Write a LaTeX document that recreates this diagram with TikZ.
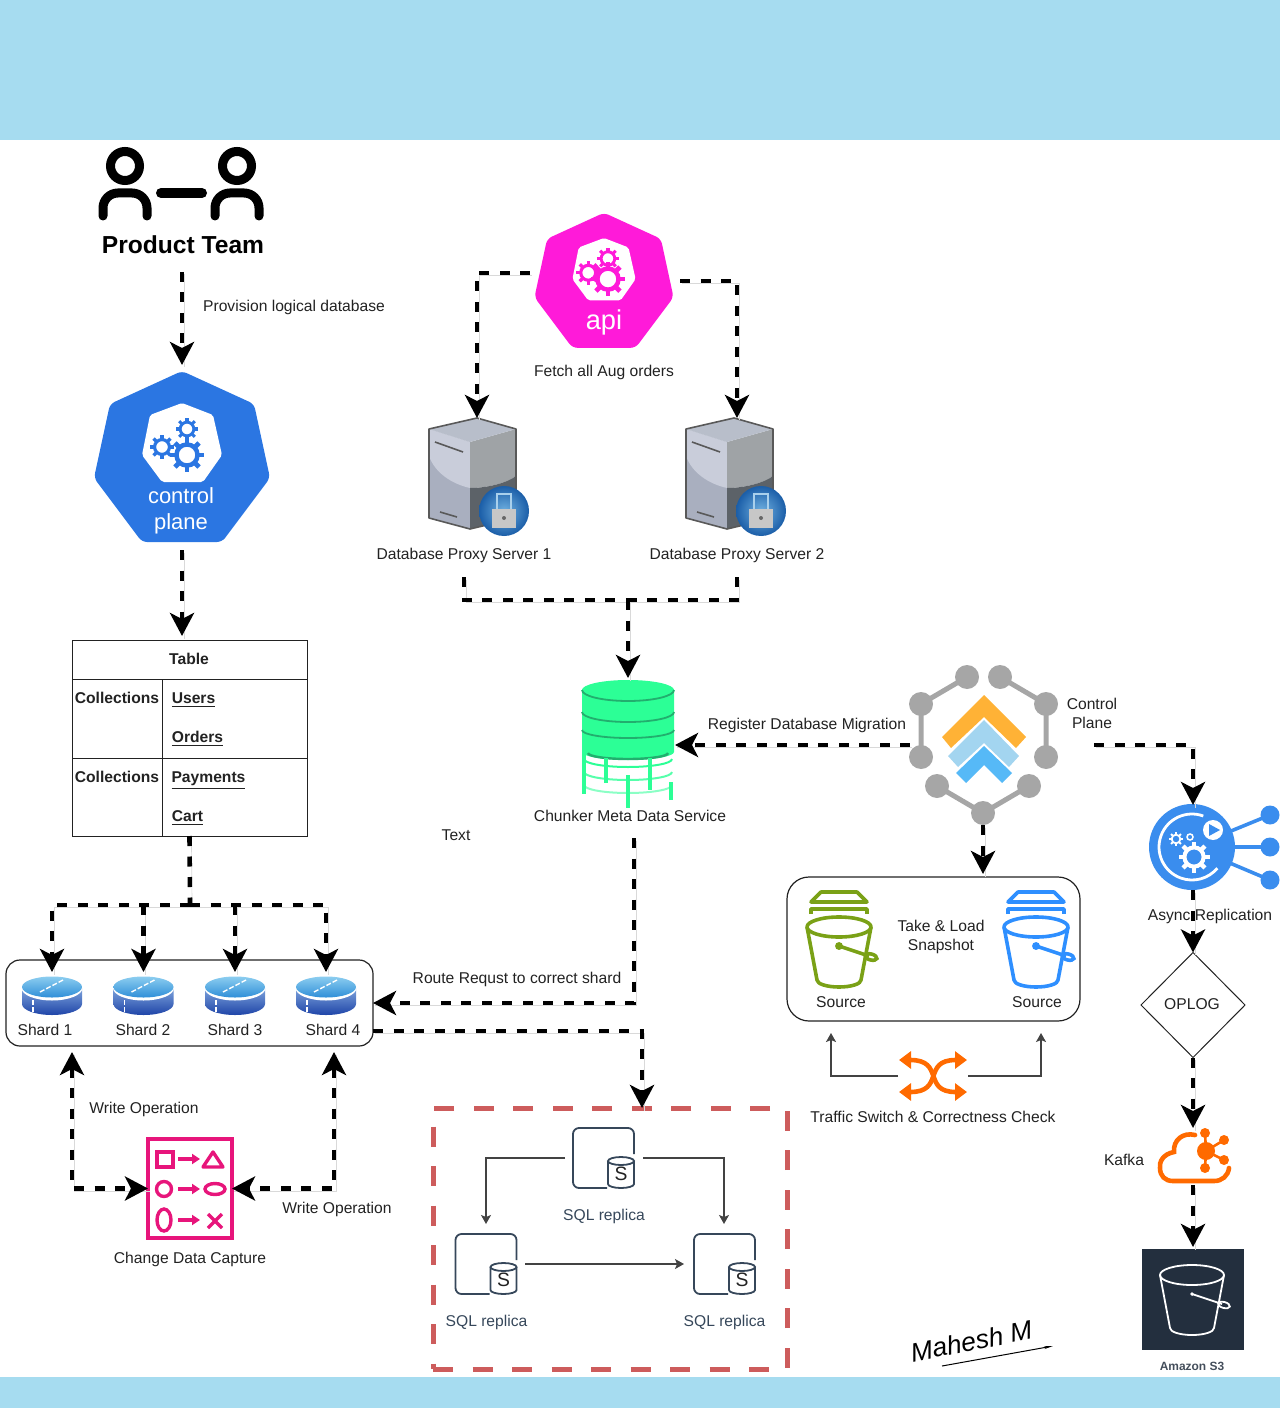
\documentclass[tikz,border=0pt]{standalone}
\usepackage{fontspec}
\setmainfont{Liberation Sans}
\usetikzlibrary{arrows.meta, shapes.geometric}
\newdimen\pxu \pxu=0.02cm
\definecolor{bandblue}{HTML}{A6DCF0}
\definecolor{k8sblue}{HTML}{2B76E2}
\definecolor{apipink}{HTML}{FF1AD9}
\definecolor{chunkgreen}{HTML}{2CFF96}
\definecolor{chunkdark}{HTML}{22AE6E}
\definecolor{cpgray}{HTML}{A6A6A6}
\definecolor{asyncblue}{HTML}{3A8DEE}
\definecolor{swaporange}{HTML}{FF6A00}
\definecolor{cdcpink}{HTML}{E7157B}
\definecolor{redbox}{HTML}{CD5C5C}
\definecolor{s3navy}{HTML}{232F3E}
\definecolor{sqlslate}{HTML}{36475A}
\definecolor{awsgreen}{HTML}{7AA116}
\definecolor{awsblue}{HTML}{2E8FFF}
\definecolor{inkgray}{HTML}{222222}
\definecolor{globein}{HTML}{6FB0E0}
\definecolor{globeout}{HTML}{1B5EA8}
\definecolor{diskbodyA}{HTML}{7DA3DC}
\definecolor{diskbodyB}{HTML}{1F45A8}
\definecolor{disktopA}{HTML}{8CCDF0}
\definecolor{disktopB}{HTML}{2F8FD8}
\tikzset{
	lbl/.style={font=\fontsize{8.9}{10}\selectfont, text=inkgray, inner sep=0pt, text height=.72em, text depth=.1em},
	boldlbl/.style={lbl, font=\fontsize{8.9}{10}\selectfont\bfseries},
	iconbox/.style 2 args={minimum width=#1\pxu, minimum height=#2\pxu, inner sep=0pt, outer sep=0pt},
	flowline/.style={draw=black, line width=4.6\pxu, dash pattern=on 10\pxu off 10.5\pxu,
		preaction={draw=black!15, arrows=-, transform canvas={shift={(2\pxu,-2.5\pxu)}}}},
	flow/.style={flowline, -{Stealth[length=.46cm, width=.48cm, inset=.12cm]}},
	biflow/.style={flowline, {Stealth[length=.46cm, width=.48cm, inset=.12cm]}-{Stealth[length=.46cm, width=.48cm, inset=.12cm]}},
	thinflow/.style={draw=inkgray!85, line width=1.3\pxu, -{Stealth[length=.18cm, width=.2cm, inset=.04cm]}},
	pics/gear/.style 2 args={code={
		\draw[#2, line width=#1*.26\pxu] (0,0) circle (#1*.62);
		\foreach \a in {0,45,...,315} \draw[#2, line width=#1*.28\pxu] (\a:#1*.7) -- (\a:#1);
	}},
	pics/hepta/.style={code={
		\fill[#1, rounded corners=5\pxu] (0,-94) -- (72,-61) -- (88,13) -- (40,77) -- (-40,77) -- (-88,13) -- (-72,-61) -- cycle;
		\fill[white, rounded corners=2\pxu] (0,-62) -- (31,-50) -- (40,-10) -- (21,17) -- (-20,17) -- (-40,-10) -- (-32,-50) -- cycle;
		\pic at (5,-10) {gear={17}{#1}};
		\pic at (-20,-18) {gear={12}{#1}};
		\pic at (5,-36) {gear={11}{#1}};
	}},
	pics/serverbody/.style={code={
		\fill[color={rgb,255:red,169;green,175;blue,191}] (-48,11) -- (-7,24) -- (-7,111) -- (-48,100) -- cycle;
		\fill[color={rgb,255:red,201;green,205;blue,218}] (-48,11) -- (-7,24) -- (-7,70) .. controls (-25,66) and (-42,55) .. (-48,38) -- cycle;
		\fill[color={rgb,255:red,159;green,163;blue,166}] (39,11) -- (-7,24) -- (-7,70) .. controls (10,70) and (30,65) .. (39,58) -- cycle;
		\fill[color={rgb,255:red,92;green,98;blue,104}] (-7,70) .. controls (10,70) and (30,65) .. (39,58) -- (39,100) -- (-7,111) -- cycle;
		\fill[color={rgb,255:red,184;green,190;blue,202}] (0,0) -- (39,11) -- (-7,24) -- (-48,11) -- cycle;
		\draw[black!65, line width=1.6\pxu, line join=round] (0,0) -- (39,11) -- (39,100) -- (-7,111) -- (-48,100) -- (-48,11) -- cycle;
		\draw[black!65, line width=1.6\pxu] (-42,24) -- (-14,34) (-37,94) -- (-20,99);
		\shade[inner color=globein, outer color=globeout] (27,93) circle (25);
		\fill[black!22] (15,91) rectangle (39,110);
		\draw[globein!60!white, line width=2.5\pxu] (20,91) -- (20,76) -- (34,76) -- (34,91);
		\fill[black!60] (27,100) circle (2);
	}},
	pics/disk/.style={code={
		\shade[top color=diskbodyA, bottom color=diskbodyB] (-30,0) -- (-30,16) arc (180:0:30 and 11) -- (30,0) -- cycle;
		\fill[white] (0,0) ellipse (30.5 and 12.5);
		\shade[top color=disktopA, bottom color=disktopB] (0,-1) ellipse (30 and 10.5);
		\draw[white, line width=1.4\pxu, dash pattern=on 5\pxu off 2\pxu] (-12,4) -- (11,-8);
		\draw[white, line width=1.2\pxu, dash pattern=on 5\pxu off 2\pxu] (-19,12) -- (-19,26);
	}},
	pics/pail/.style 2 args={code={
		\draw[#1, line width=#2\pxu, line join=round] (0,0) ellipse (32 and 10);
		\draw[#1, line width=#2\pxu, line join=round] (-32,0) -- (-22,53) arc (180:0:22 and 7) -- (32,0);
		\draw[#1, line width=#2\pxu] (0,19) -- (30,29);
		\draw[#1, line width=#2\pxu, rotate around={-15:(32,30)}] (32,30) ellipse (6 and 3);
		\fill[#1] (0,19) circle (#2*1.1);
	}},
	pics/lidpail/.style={code={
		\draw[#1, line width=3.6\pxu, line join=round] (-28,-25) -- (-18,-35) -- (18,-35) -- (28,-25) -- cycle;
		\draw[#1, line width=3.6\pxu, line join=round] (-28,-13) -- (-28,-18) -- (28,-18) -- (28,-13);
		\pic {pail={#1}{3.6}};
	}},
	pics/sqlcan/.style={code={
		\draw[sqlslate, line width=1.8\pxu, rounded corners=6\pxu] (61,26) -- (61,0) -- (0,0) -- (0,60) -- (34,60);
		\draw[sqlslate, line width=1.8\pxu] (35,33) -- (35,56) arc (180:0:13 and 4) -- (61,33);
		\draw[sqlslate, line width=1.8\pxu, fill=white] (48,33) ellipse (13 and 4);
		\node[lbl, font=\fontsize{11}{11}\selectfont] at (48,47) {S};
	}},
}
\begin{document}
\begin{tikzpicture}[x=0.02cm, y=-0.02cm, >=Stealth]
	\useasboundingbox (0,0) rectangle (1280,1408);
	% bands
	\fill[bandblue] (0,0) rectangle (1280,140.5);
	\fill[bandblue] (0,1377) rectangle (1280,1408);

	% product team
	\node[iconbox={167}{127}] (team) at (182,208.5) {};
	\foreach \x in {125,237} \draw[line width=9\pxu] (\x,166) circle (14.5);
	\foreach \x in {125,237} \draw[line width=9\pxu, line cap=round, rounded corners=15\pxu] (\x-22,216) -- (\x-22,193) -- (\x+22,193) -- (\x+22,216);
	\draw[line width=10\pxu, line cap=round] (161,193) -- (202,193);
	\node[boldlbl, font=\fontsize{14}{15}\selectfont\bfseries, text=black] (teamlbl) at (183,248) {Product Team};
	\node[lbl] (provlbl) at (294,306) {Provision logical database};

	% control plane
	\node[iconbox={178}{185}] (ctrl) at (182,457.5) {};
	\pic at (182,465) {hepta=k8sblue};
	\node[lbl, font=\fontsize{12.5}{14.7}\selectfont, text=white, align=center] (ctrllbl) at (181,524) {control\\plane};

	% table
	\node[draw=inkgray, line width=1\pxu, iconbox={235}{196}] (tbl) at (189.5,738) {};
	\draw[inkgray, line width=1\pxu] (72,679) -- (307,679) (72,758) -- (307,758) (162,679) -- (162,836);
	\node[boldlbl] (tblhead) at (189,659) {Table};
	\node[boldlbl] (coll1) at (117,698) {Collections};
	\node[boldlbl] (coll2) at (117,777) {Collections};
	\node[boldlbl] (users) at (193.5,698) {\underline{Users}};
	\node[boldlbl] (orders) at (197.5,737) {\underline{Orders}};
	\node[boldlbl] (pay) at (208.5,777) {\underline{Payments}};
	\node[boldlbl] (cart) at (187.5,816) {\underline{Cart}};

	% shards
	\node[draw=inkgray, line width=1.2\pxu, rounded corners=14\pxu, iconbox={367}{86}] (shardbox) at (189.5,1003) {};
	\foreach \x/\n/\lx in {52/1/45,143.5/2/143,235/3/235,326/4/333} {
		\node[iconbox={60}{43}] (shard\n) at (\x,993.5) {};
		\pic at (\x,988) {disk};
		\node[lbl] (shardlbl\n) at (\lx,1030) {Shard \n};
	}
	\coordinate (bus) at (190,905);
	\coordinate (wl) at (72,1052);
	\coordinate (wr) at (334,1052);

	% change data capture
	\node[draw=cdcpink, line width=4\pxu, iconbox={84}{99}] (cdc) at (190,1188.5) {};
	\begin{scope}[cdcpink, line width=3.4\pxu]
		\draw (157,1152) rectangle (173,1167);
		\draw[line join=round] (213,1152) -- (203,1167) -- (223,1167) -- cycle;
		\draw (164,1189) circle (7.5);
		\draw (215,1189) ellipse (10 and 5.5);
		\draw (164,1220) ellipse (7 and 11);
		\draw (208,1214) -- (222,1228) (222,1214) -- (208,1228);
		\foreach \y in {1159,1189,1220} \draw[-{Triangle[length=.16cm, width=.2cm]}] (178,\y) -- (200,\y);
	\end{scope}
	\node[lbl] (wlbl1) at (144,1108) {Write Operation};
	\node[lbl] (wlbl2) at (337,1208) {Write Operation};
	\node[lbl] (cdclbl) at (190,1258) {Change Data Capture};

	% api
	\pic[scale=.79] at (604,287) {hepta=apipink};
	\coordinate (apil) at (530,273);
	\coordinate (apir) at (680,281);
	\node[lbl, font=\fontsize{15.5}{18}\selectfont, text=white] (apitxt) at (604,324) {api};
	\node[lbl] (fetchlbl) at (604,371) {Fetch all Aug orders};

	% proxy servers
	\node[iconbox={94}{111}] (srv1) at (477,473.5) {};
	\node[iconbox={94}{111}] (srv2) at (737,473.5) {};
	\pic at (477,418) {serverbody};
	\pic at (734,418) {serverbody};
	\node[lbl, minimum height=46\pxu] (srv1lbl) at (464,554) {Database Proxy Server 1};
	\node[lbl, minimum height=46\pxu] (srv2lbl) at (737,554) {Database Proxy Server 2};
	\coordinate (join) at (628,600);

	% chunker
	\node[iconbox={94}{134}] (chunk) at (628,745) {};
	\fill[chunkgreen] (582,690) -- (582,752) arc (180:0:46 and 8) -- (674,690) arc (360:180:46 and 10) -- cycle;
	\draw[chunkdark, line width=1.8\pxu] (582,690) arc (180:0:46 and 11) (582,712) arc (180:0:46 and 10) (582,730) arc (180:0:46 and 8);
	\draw[chunkdark, line width=2.4\pxu] (588,753) arc (180:0:40 and 6);
	\foreach \y/\o in {759/1,772/.8,785/.55} \draw[chunkgreen, line width=2\pxu, opacity=\o] (584,\y) arc (180:0:44 and 8);
	\foreach \x/\a/\b in {584/750/794,606/758/783,628/775/808,650/758/790,671/782/800} \draw[chunkgreen, line width=3.4\pxu] (\x,\a) -- (\x,\b);
	\node[lbl] (chunklbl) at (630,816) {Chunker Meta Data Service};
	\node[lbl] (textlbl) at (456,835) {Text};
	\coordinate (routestart) at (634,838);
	\node[lbl] (routelbl) at (517,978) {Route Requst to correct shard};
	\node[lbl] (reglbl) at (807,724) {Register Database Migration};
	\coordinate (sqlout) at (373,1031);
	\coordinate (sqlin) at (642,1108);

	% control plane on the right
	\node[iconbox={146}{160}] (cp) at (983,745) {};
	\draw[cpgray, line width=5\pxu] (967,677) -- (921,704) -- (921,757) (1000,677) -- (1046,704) -- (1046,757) (937,786) -- (983,813) -- (1029,786);
	\foreach \x/\y in {967/677,1000/677,921/704,1046/704,921/757,1046/757,937/786,1029/786,983/813} \fill[cpgray] (\x,\y) circle (12);
	\fill[color={rgb,255:red,255;green,178;blue,54}] (984,695) -- (1026,737) -- (1016,748) -- (984,717) -- (951,748) -- (942,737) -- cycle;
	\fill[color={rgb,255:red,163;green,213;blue,240}] (984,720) -- (1019,756) -- (1009,767) -- (984,743) -- (958,767) -- (948,756) -- cycle;
	\fill[color={rgb,255:red,86;green,185;blue,247}] (984,746) -- (1012,773) -- (1002,783) -- (984,765) -- (966,783) -- (956,773) -- cycle;
	\node[lbl, align=center, font=\fontsize{8.9}{11}\selectfont] (cplbl) at (1092,723) {Control\\Plane};
	\coordinate (cpout) at (1094,745);

	% snapshot box
	\node[draw=inkgray, line width=1.2\pxu, rounded corners=22\pxu, iconbox={293}{144}] (snap) at (933.5,949) {};
	\pic at (839,927) {lidpail=awsgreen};
	\pic at (1036,927) {lidpail=awsblue};
	\node[lbl, align=center, font=\fontsize{8.9}{11}\selectfont] (snaplbl) at (941,945) {Take \& Load\\Snapshot};
	\node[lbl] (src1) at (841,1002) {Source};
	\node[lbl] (src2) at (1037,1002) {Source};

	% traffic switch
	\node[iconbox={70}{40}] (switch) at (933,1076) {};
	\draw[swaporange, line width=4.6\pxu, {Triangle[length=.24cm, width=.34cm]}-{Triangle[length=.24cm, width=.34cm]}] (899,1060) .. controls (945,1060) and (922,1092) .. (967,1092);
	\draw[swaporange, line width=4.6\pxu, {Triangle[length=.24cm, width=.34cm]}-{Triangle[length=.24cm, width=.34cm]}] (899,1092) .. controls (945,1092) and (922,1060) .. (967,1060);
	\node[lbl] (swlbl) at (933,1117) {Traffic Switch \& Correctness Check};
	\coordinate (sw1) at (831,1033);
	\coordinate (sw2) at (1041,1033);

	% async replication
	\node[iconbox={86}{85}] (async) at (1193,847.5) {};
	\draw[asyncblue, line width=3.6\pxu] (1192,847) -- (1270,815) (1192,847) -- (1270,847) (1192,847) -- (1270,880);
	\foreach \y in {815,847,880} \fill[asyncblue] (1270,\y) circle (9.5);
	\fill[asyncblue] (1192,847) circle (43);
	\draw[white, line width=2.8\pxu] (1203.3,816) arc (290:40:33);
	\fill[white] (1213,830) circle (10);
	\fill[asyncblue] (1209,824) -- (1220,830) -- (1209,836) -- cycle;
	\pic at (1194,857) {gear={15.5}{white}};
	\pic at (1176,839) {gear={7}{white}};
	\draw[white, line width=1.5\pxu] (1190,837) circle (3);
	\node[lbl] (asynclbl) at (1210,915) {Async Replication};

	% oplog
	\node[draw=inkgray, line width=1\pxu, diamond, aspect=1, iconbox={104}{105}] (oplog) at (1193,1005) {};
	\node[lbl] (opl) at (1192,1004) {OPLOG};

	% kafka
	\node[iconbox={73}{57}] (kafka) at (1193,1156.5) {};
	\draw[swaporange, line width=4.6\pxu, line cap=round] (1195,1135) .. controls (1183,1132) and (1173,1140) .. (1174,1152) .. controls (1163,1154) and (1159,1162) .. (1160,1168) .. controls (1160,1176) and (1165,1181) .. (1173,1181) -- (1214,1181) .. controls (1222,1181) and (1228,1176) .. (1229,1168);
	\draw[swaporange, line width=2.6\pxu] (1206,1151) -- (1205,1133) (1206,1151) -- (1224,1140) (1206,1151) -- (1224,1160) (1206,1151) -- (1205,1168);
	\fill[swaporange] (1206,1151) circle (9);
	\foreach \x/\y in {1205/1133,1224/1140,1224/1160,1205/1168} \fill[swaporange] (\x,\y) circle (5);
	\node[lbl] (kafkalbl) at (1124,1160) {Kafka};

	% s3
	\node[fill=s3navy, iconbox={102}{101}] (s3) at (1193,1299.5) {};
	\pic at (1192,1275) {pail={white}{1.8}};
	\node[boldlbl, font=\fontsize{6.8}{8}\selectfont\bfseries, text=s3navy!85!white] (s3lbl) at (1192,1365) {Amazon S3};

	% sql replicas
	\node[draw=redbox, line width=5\pxu, dash pattern=on 20\pxu off 19.5\pxu, iconbox={354}{261}] (sqlbox) at (610,1238.5) {};
	\node[iconbox={78}{60}] (sql1) at (604,1158) {};
	\node[iconbox={78}{80}] (sql2) at (486,1264) {};
	\node[iconbox={80}{80}] (sql3) at (724,1264) {};
	\pic at (573,1128) {sqlcan};
	\pic at (455.5,1234) {sqlcan};
	\pic at (694,1234) {sqlcan};
	\node[lbl, text=sqlslate] (sqllbl1) at (604,1215) {SQL replica};
	\node[lbl, text=sqlslate] (sqllbl2) at (486.5,1321) {SQL replica};
	\node[lbl, text=sqlslate] (sqllbl3) at (724.5,1321) {SQL replica};

	% signature
	\node[lbl, font=\fontsize{15}{20}\selectfont\itshape, text=black, rotate=11] (sign) at (972,1345) {Mahesh M};
	\coordinate (signa) at (942,1366);
	\coordinate (signb) at (1053,1346);
	\draw[black, line width=1\pxu, -{Stealth[length=.18cm, width=.06cm]}] (signa) -- (signb);

	% dashed flows
	\draw[flow] (team.south) -- (ctrl.north);
	\draw[flow, shorten >=4\pxu] (ctrl.south) -- (ctrl.south |- tbl.north);
	\draw[flowline] (tbl.south) -- (bus);
	\draw[flow] (bus) -| (shard1.north);
	\draw[flow] (bus) -| (shard4.north);
	\draw[flow] (bus -| shard2.north) -- (shard2.north);
	\draw[flow] (bus -| shard3.north) -- (shard3.north);
	\draw[biflow] (wl) |- (cdc.west);
	\draw[biflow] (wr) |- (cdc.east);
	\draw[flow] (apil) -| (srv1.north);
	\draw[flow] (apir) -| (srv2.north);
	\draw[flowline] (srv1lbl.south) |- (join);
	\draw[flowline] (srv2lbl.south) |- (join);
	\draw[flow] (join) -- (chunk.north);
	\draw[flow] (cp.west) -- (chunk.east);
	\draw[flow] (routestart) |- (shardbox.east);
	\draw[flow] (sqlout) -| (sqlin);
	\draw[flow, shorten >=3\pxu] (cp.south) -- (cp.south |- snap.north);
	\draw[flow] (cpout) -| (async.north);
	\draw[flow] (async.south) -- (oplog.north);
	\draw[flow] (oplog.south) -- (kafka.north);
	\draw[flow, shorten >=2\pxu] (kafka.south) -- (s3.north);

	% thin arrows
	\draw[thinflow] (switch.west) -| (sw1);
	\draw[thinflow] (switch.east) -| (sw2);
	\draw[thinflow] (sql1.west) -| (sql2.north);
	\draw[thinflow] (sql1.east) -| (sql3.north);
	\draw[thinflow] (sql2.east) -- (sql3.west);
\end{tikzpicture}
\end{document}
